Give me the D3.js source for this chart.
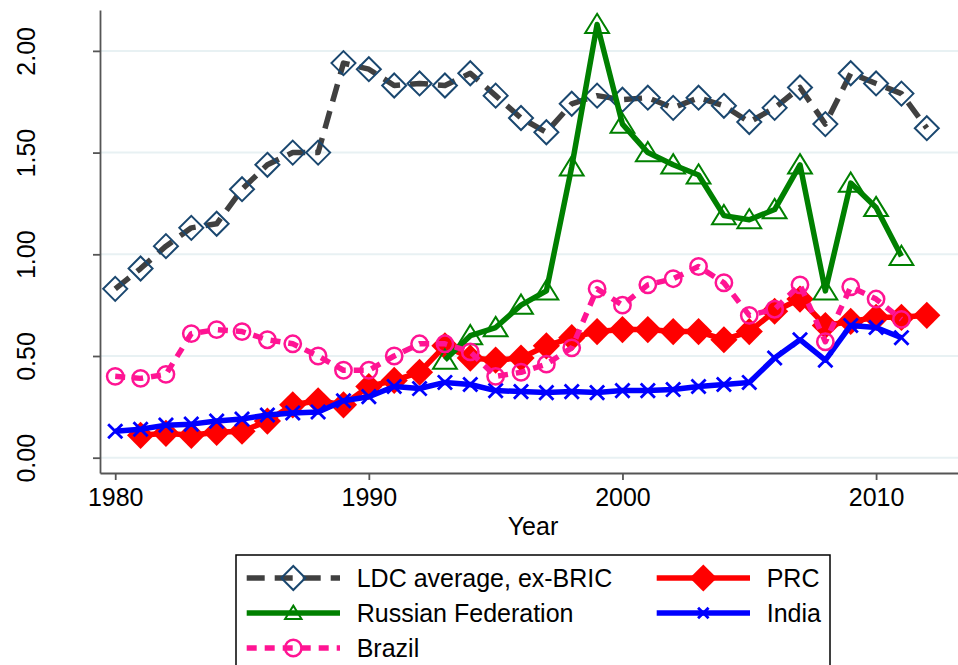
<!DOCTYPE html>
<html>
<head>
<meta charset="utf-8">
<script src="https://d3js.org/d3.v7.min.js"></script>
<title>LDC ratio chart</title>
<style>
  body { margin: 0; background: white; }
  svg { display: block; font-family: "Liberation Sans", Arial, sans-serif; }
  .axis text { font-size: 25px; fill: #000; }
  .axis path, .axis line { stroke: #555; stroke-width: 1.8; }
  .grid line { stroke: #e8f1f3; stroke-width: 2; }
</style>
</head>
<body>
<div id="chart"></div>
<script>
const years = [1980, 1981, 1982, 1983, 1984, 1985, 1986, 1987, 1988, 1989,
               1990, 1991, 1992, 1993, 1994, 1995, 1996, 1997, 1998, 1999,
               2000, 2001, 2002, 2003, 2004, 2005, 2006, 2007, 2008, 2009,
               2010, 2011, 2012];

// LDC average, ex-BRIC: 1980-2012
const ldc = [0.83, 0.93, 1.04, 1.13, 1.15, 1.32, 1.44, 1.50, 1.50, 1.94,
             1.91, 1.83, 1.84, 1.83, 1.89, 1.78, 1.67, 1.60, 1.74, 1.78,
             1.76, 1.77, 1.72, 1.77, 1.73, 1.65, 1.72, 1.82, 1.64, 1.89,
             1.84, 1.79, 1.62];
// Russian Federation: 1993-2011
const russia = [0.48, 0.60, 0.64, 0.75, 0.82, 1.43, 2.13, 1.64, 1.50, 1.44,
                1.39, 1.19, 1.17, 1.22, 1.44, 0.82, 1.35, 1.23, 0.99];
// Brazil: 1980-2011
const brazil = [0.40, 0.39, 0.41, 0.61, 0.63, 0.62, 0.58, 0.56, 0.50, 0.43,
                0.43, 0.50, 0.56, 0.56, 0.52, 0.40, 0.42, 0.46, 0.54, 0.83,
                0.75, 0.85, 0.88, 0.94, 0.86, 0.70, 0.73, 0.85, 0.57, 0.84,
                0.78, 0.68];
// PRC: 1981-2012
const prc = [0.11, 0.12, 0.11, 0.125, 0.13, 0.18, 0.26, 0.28, 0.26, 0.35,
             0.38, 0.42, 0.55, 0.49, 0.48, 0.49, 0.55, 0.59, 0.62, 0.63,
             0.63, 0.62, 0.62, 0.58, 0.62, 0.72, 0.78, 0.65, 0.67, 0.69,
             0.69, 0.70];
// India: 1980-2011
const india = [0.13, 0.14, 0.16, 0.165, 0.18, 0.19, 0.21, 0.22, 0.225, 0.28,
               0.30, 0.35, 0.34, 0.37, 0.36, 0.33, 0.325, 0.32, 0.325, 0.32,
               0.33, 0.33, 0.335, 0.35, 0.36, 0.37, 0.49, 0.58, 0.48, 0.65,
               0.64, 0.59];

const yTicks = [0, 0.5, 1, 1.5, 2];
const xTicks = [1980, 1990, 2000, 2010];

const w = 958;
const h = 665;

// custom marker shapes
const diamondType = {
  draw(ctx, size) {
    const r = Math.sqrt(size / 2);
    ctx.moveTo(0, -r); ctx.lineTo(r, 0); ctx.lineTo(0, r); ctx.lineTo(-r, 0); ctx.closePath();
  }
};
const xType = {
  draw(ctx, size) {
    const r = Math.sqrt(size) / 2;
    ctx.moveTo(-r, -r); ctx.lineTo(r, r);
    ctx.moveTo(r, -r); ctx.lineTo(-r, r);
  }
};
const triType = {
  draw(ctx, size) {
    const s = Math.sqrt(size);
    ctx.moveTo(0, -s * 0.52); ctx.lineTo(s * 0.58, s * 0.42); ctx.lineTo(-s * 0.58, s * 0.42); ctx.closePath();
  }
};

// plot order: LDC, PRC, Russia, India, Brazil
const series = [
  {name: "LDC average, ex-BRIC", start: 0, values: ldc, color: "#404040", width: 5.5, dash: "18 10",
   sym: diamondType, size: 288, keySize: 288, mfill: "none", mstroke: "#1a476f", mwidth: 2},
  {name: "PRC", start: 1, values: prc, color: "#ff0000", width: 5.5, dash: null,
   sym: diamondType, size: 370, keySize: 370, mfill: "#ff0000", mstroke: "none", mwidth: 0},
  {name: "Russian Federation", start: 13, values: russia, color: "#008000", width: 5.5, dash: null,
   sym: triType, size: 420, keySize: 200, mfill: "none", mstroke: "#008000", mwidth: 2},
  {name: "India", start: 0, values: india, color: "#0000ff", width: 5.5, dash: null,
   sym: xType, size: 200, keySize: 110, mfill: "none", mstroke: "#0000ff", mwidth: 2.8},
  {name: "Brazil", start: 0, values: brazil, color: "#ff1493", width: 5.5, dash: "10 8",
   sym: d3.symbolCircle, size: 210, keySize: 210, mfill: "none", mstroke: "#ff1493", mwidth: 2.5}
];

const x = d3.scaleLinear().domain([1979.4, 2013.23]).range([100, 958]);
const y = d3.scaleLinear().domain([-0.0752, 2.201]).range([473, 10]);

const svg = d3.select("#chart").append("svg")
  .attr("width", w)
  .attr("height", h);

// grid lines
svg.append("g")
  .attr("class", "grid")
  .selectAll("line")
  .data(yTicks)
  .enter()
  .append("line")
  .attr("x1", 101)
  .attr("x2", w)
  .attr("y1", d => y(d))
  .attr("y2", d => y(d));

// y axis
const yAxis = svg.append("g")
  .attr("class", "axis")
  .attr("transform", "translate(100 0)")
  .call(d3.axisLeft(y).tickValues(yTicks).tickFormat(d3.format(".2f")).tickSize(7).tickSizeOuter(0));
yAxis.selectAll("text")
  .attr("transform", "rotate(-90)")
  .attr("x", 0)
  .attr("y", -65.5)
  .attr("dy", 0)
  .attr("text-anchor", "middle");

// x axis
const xAxis = svg.append("g")
  .attr("class", "axis")
  .attr("transform", "translate(0 473)")
  .call(d3.axisBottom(x).tickValues(xTicks).tickFormat(d3.format("d")).tickSize(7).tickSizeOuter(0));
xAxis.selectAll("text")
  .attr("y", 33)
  .attr("dy", 0);

svg.append("text")
  .attr("x", 533)
  .attr("y", 535)
  .attr("text-anchor", "middle")
  .style("font-size", "25px")
  .text("Year");

const line = d3.line()
  .x(d => x(d[0]))
  .y(d => y(d[1]));

series.forEach(s => {
  const pts = s.values.map((v, i) => [years[s.start + i], v]);
  const g = svg.append("g");
  g.append("path")
    .datum(pts)
    .attr("d", line)
    .attr("fill", "none")
    .attr("stroke", s.color)
    .attr("stroke-width", s.width)
    .attr("stroke-dasharray", s.dash)
    .attr("stroke-linejoin", "round");
  g.selectAll(".pt")
    .data(pts)
    .enter()
    .append("path")
    .attr("transform", d => `translate(${x(d[0])},${y(d[1])})`)
    .attr("d", d3.symbol().type(s.sym).size(s.size))
    .attr("fill", s.mfill)
    .attr("stroke", s.mstroke)
    .attr("stroke-width", s.mwidth);
});

// legend
const legend = svg.append("g");
legend.append("rect")
  .attr("x", 236)
  .attr("y", 555)
  .attr("width", 594)
  .attr("height", 120)
  .attr("fill", "white")
  .attr("stroke", "#000")
  .attr("stroke-width", 1.5);

// legend slots: row-major, two columns
const legendOrder = ["LDC average, ex-BRIC", "PRC", "Russian Federation", "India", "Brazil"];
const colX = [246.7, 656.7];
const rowY = [578, 613, 648];
legendOrder.forEach((name, i) => {
  const s = series.find(d => d.name === name);
  const lx = colX[i % 2];
  const ly = rowY[Math.floor(i / 2)];
  const item = legend.append("g").attr("transform", `translate(${lx},${ly})`);
  item.append("line")
    .attr("x1", 0).attr("x2", 93.3)
    .attr("stroke", s.color)
    .attr("stroke-width", s.width)
    .attr("stroke-dasharray", s.dash);
  item.append("path")
    .attr("transform", "translate(46.6,0)")
    .attr("d", d3.symbol().type(s.sym).size(s.keySize))
    .attr("fill", s.mfill)
    .attr("stroke", s.mstroke)
    .attr("stroke-width", s.mwidth);
  item.append("text")
    .attr("x", 110)
    .attr("y", 9)
    .style("font-size", "25px")
    .text(s.name);
});
</script>
</body>
</html>
